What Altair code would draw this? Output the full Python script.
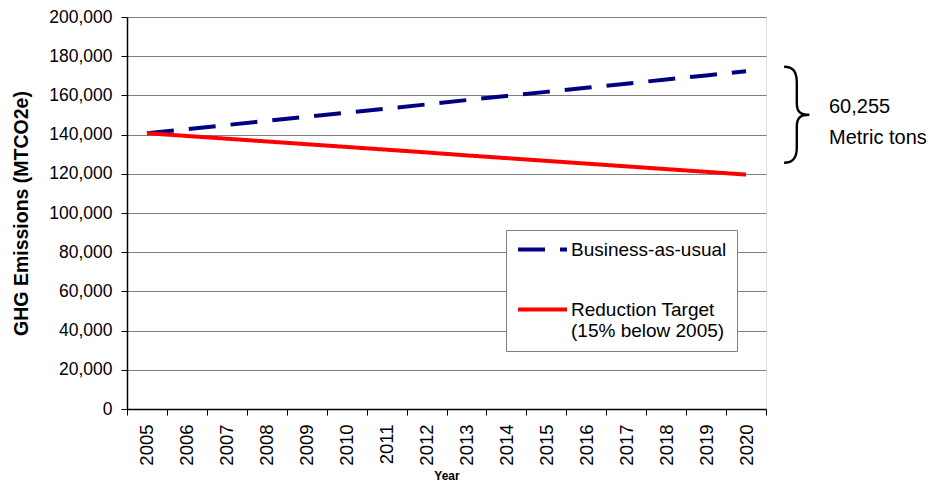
import altair as alt
import pandas as pd

years = [str(y) for y in range(2005, 2021)]
bau = [140700, 142800, 144900, 147000, 149100, 151200, 153300, 155400,
       157600, 159700, 161800, 163900, 166000, 168100, 170200, 172300]
target = [140700, 139300, 137900, 136500, 135100, 133700, 132300, 130900,
          129400, 128000, 126600, 125200, 123800, 122400, 121000, 119600]
series_names = ["Business-as-usual", "Reduction Target"]
y_ticks = list(range(0, 200001, 20000))
note_value = "60,255"
note_unit = "Metric tons"

rows = []
for y, v in zip(years, bau):
    rows.append({"year": y, "value": v, "series": series_names[0]})
for y, v in zip(years, target):
    rows.append({"year": y, "value": v, "series": series_names[1]})
df = pd.DataFrame(rows)

FONT = "Liberation Sans"

legend = alt.Legend(
    title=None, orient="none", legendX=379, legendY=213,
    symbolType="M-4,0H4", symbolSize=150, symbolStrokeWidth=4, symbolOffset=17,
    labelFontSize=19, labelFont=FONT, labelColor="black", labelOffset=19, labelLimit=0,
    padding=10, rowPadding=40, strokeColor="#808080", fillColor="white",
    labelExpr="datum.label == 'Reduction Target' ? ['Reduction Target', '(15% below 2005)'] : datum.label",
)

lines = alt.Chart(df).mark_line(strokeWidth=4, clip=False).encode(
    x=alt.X("year:O", title="Year", sort=years,
            scale=alt.Scale(paddingInner=0, paddingOuter=0),
            axis=alt.Axis(tickBand="extent", labelAngle=-90, labelFontSize=18.5, labelFont=FONT,
                          labelColor="black", labelPadding=9, tickSize=6, tickColor="black",
                          domainColor="black", domainWidth=1.5, titleFont=FONT, titleFontSize=12,
                          titleFontWeight="bold", titlePadding=5, grid=False)),
    y=alt.Y("value:Q", title="GHG Emissions (MTCO2e)",
            scale=alt.Scale(domain=[0, 200000], nice=False),
            axis=alt.Axis(values=y_ticks, format=",d", labelFontSize=17.5, labelFont=FONT,
                          labelColor="black", labelPadding=9, tickSize=6, tickColor="black",
                          domainColor="black", domainWidth=1.5, gridColor="#808080", gridWidth=1,
                          titleFont=FONT, titleFontSize=19.5, titleFontWeight="bold",
                          titleX=-96, titleY=196, titleAlign="center", titleBaseline="bottom")),
    color=alt.Color("series:N", sort=series_names,
                    scale=alt.Scale(domain=series_names, range=["#000080", "#FF0000"]), legend=legend),
    strokeDash=alt.StrokeDash("series:N", sort=series_names,
                              scale=alt.Scale(domain=series_names, range=[[27, 15], [1, 0]]), legend=legend),
)

brace = alt.Chart(pd.DataFrame({"t": ["}"]})).mark_text(
    font="Inter", fontWeight=100, fontSize=108, align="center", baseline="middle", color="black"
).encode(text="t:N", x=alt.value(670), y=alt.value(100))

notes1 = alt.Chart(pd.DataFrame({"t": [note_value]})).mark_text(
    font=FONT, fontSize=20, align="left", baseline="middle", color="black"
).encode(text="t:N", x=alt.value(702), y=alt.value(90))
notes2 = alt.Chart(pd.DataFrame({"t": [note_unit]})).mark_text(
    font=FONT, fontSize=20, align="left", baseline="middle", color="black"
).encode(text="t:N", x=alt.value(702), y=alt.value(121))

chart = alt.layer(lines, brace, notes1, notes2).properties(
    width=639, height=392,
    autosize=alt.AutoSizeParams(type="none"),
    padding={"left": 119, "top": 9, "right": 164, "bottom": 76},
).configure_view(stroke="#808080", strokeWidth=1).configure(background="white")

chart.save("out.html", embed_options={"renderer": "svg", "actions": False})
